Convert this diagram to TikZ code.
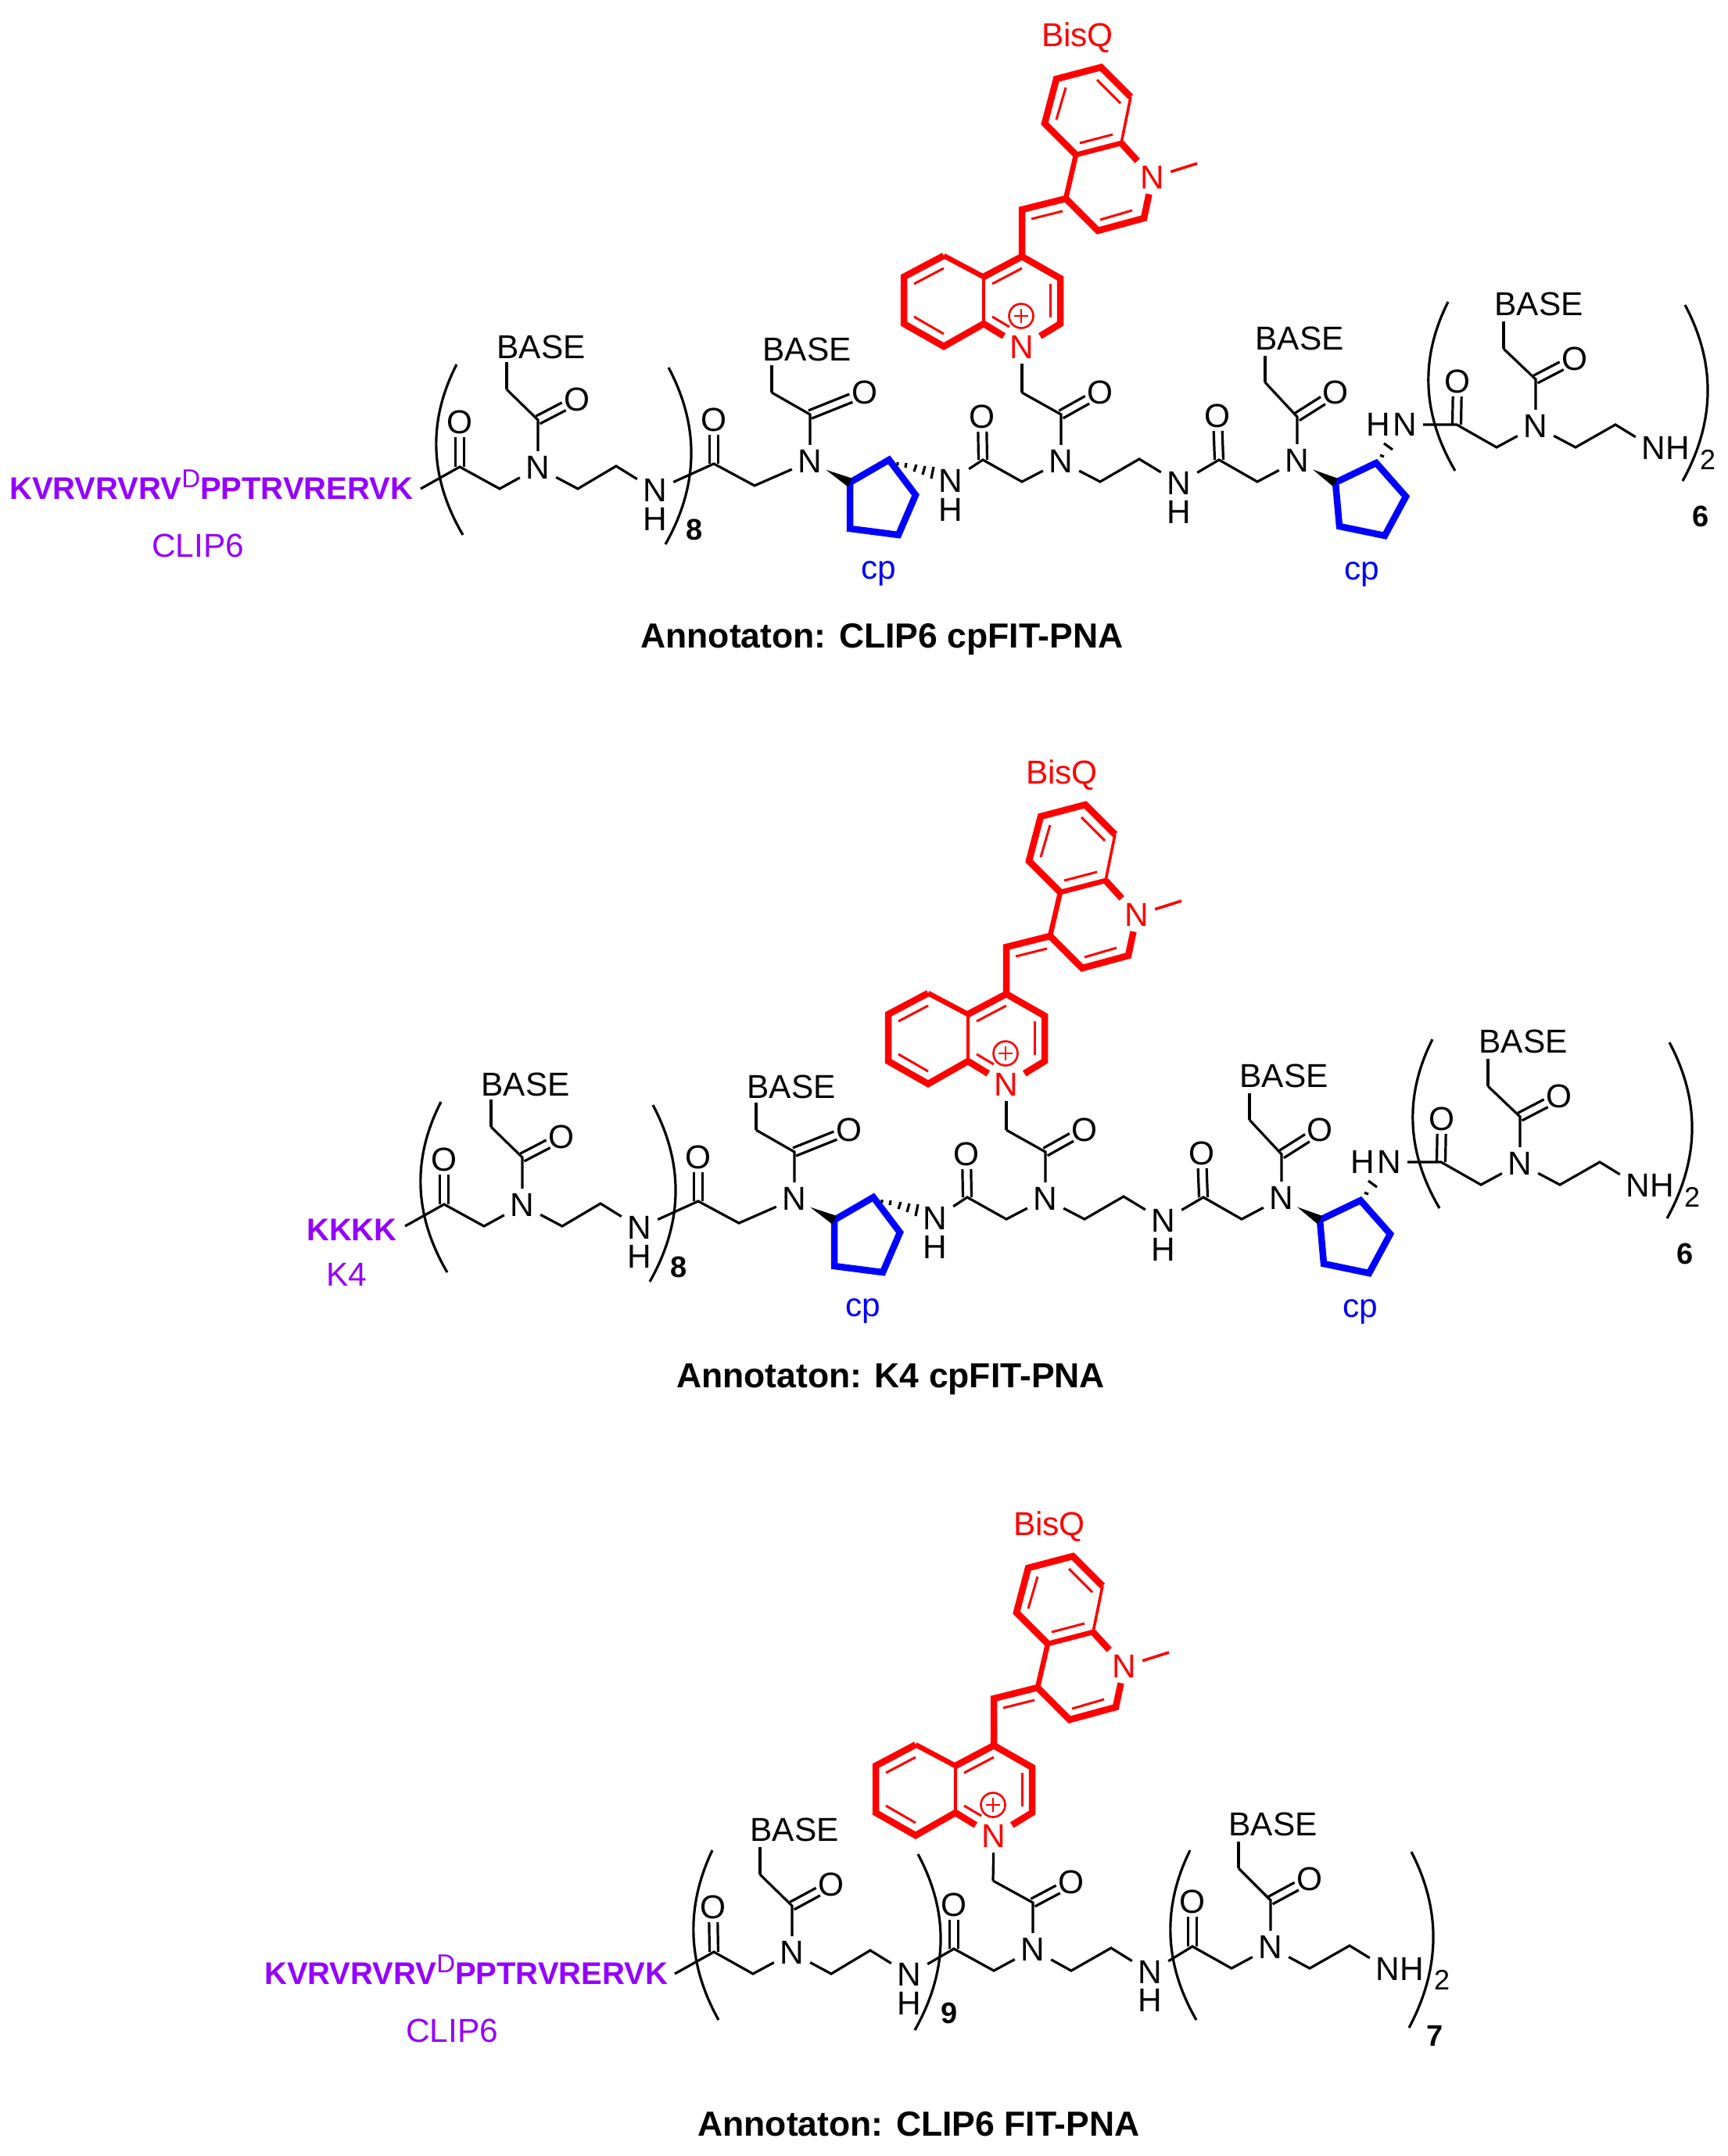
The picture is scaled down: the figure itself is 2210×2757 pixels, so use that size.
\documentclass[tikz,border=0pt]{standalone}
\usepackage{fontspec}
\setmainfont{Liberation Sans}
\usetikzlibrary{calc}
\definecolor{pep}{HTML}{9400FF}
\newcommand\fs[1]{\fontsize{#1}{#1}\selectfont}
\tikzset{
  bond/.style={line width=3.2pt,line join=miter,line cap=butt,black},
  parenl/.style={line width=3.2pt,black},
  atom/.style={rectangle,inner sep=0pt,minimum width=46pt,minimum height=42pt,font=\fs{42.4}},
  oxy/.style={inner sep=0pt,font=\fs{42.4}},
  lbl/.style={inner sep=0pt,font=\fs{42.4}},
  boldlbl/.style={inner sep=0pt,font=\fs{44.5}\bfseries},
  cnt/.style={inner sep=0pt,font=\fs{38}\bfseries},
  pepb/.style={inner sep=0pt,font=\fs{40}\bfseries,text=pep,anchor=base west},
  rb/.style={line width=8.5pt,line join=miter,line cap=butt,red},
  rm/.style={line width=6.5pt,line join=miter,line cap=butt,red},
  rt/.style={line width=3pt,line cap=butt,red},
  cpb/.style={line width=8.5pt,line join=miter,blue},
}
\newcommand\dbond[2]{%
  \draw[bond,shorten >=19pt] ($(#1)!5.5pt!90:(#2)$) -- ($(#2)!5.5pt!-90:(#1)$);
  \draw[bond,shorten >=19pt] ($(#1)!5.5pt!-90:(#2)$) -- ($(#2)!5.5pt!90:(#1)$);}
% N with its side-chain carbonyl: id, N, C, O, CH2
\newcommand\core[5]{%
  \node[atom] (#1-n) at (#2) {N};
  \coordinate (#1-c) at (#3);
  \node[oxy] (#1-o) at (#4) {O};
  \coordinate (#1-h) at (#5);
  \draw[bond] (#1-n) -- (#1-c) -- (#1-h);
  \dbond{#1-c}{#1-o}}
\newcommand\basegrp[3]{%
  \coordinate (#1-t) at (#2);
  \node[lbl] (#1-b) at (#3) {BASE};
  \draw[bond] (#1-h) -- (#1-t);}
% backbone carbonyl: id, previous node, C, O, CH2, next node
\newcommand\acyl[6]{%
  \coordinate (#1-ac) at (#3);
  \node[oxy] (#1-ao) at (#4) {O};
  \coordinate (#1-ah) at (#5);
  \draw[bond] (#2) -- (#1-ac) -- (#1-ah) -- (#6);
  \dbond{#1-ac}{#1-ao}}
% ethylene and NH: id, from, a, b, N pos, H pos
\newcommand\link[6]{%
  \coordinate (#1-a) at (#3);
  \coordinate (#1-e) at (#4);
  \node[atom] (#1-nh) at (#5) {N};
  \node[lbl] (#1-hh) at (#6) {H};
  \draw[bond] (#2) -- (#1-a) -- (#1-e) -- (#1-nh);}
\newcommand\parenth[3]{%
  \coordinate (pa) at (#1);
  \coordinate (pm) at (#2);
  \coordinate (pb) at (#3);
  \coordinate (pc) at ($2*(pm)-0.5*(pa)-0.5*(pb)$);
  \draw[parenl] (pa) .. controls ($(pa)!.667!(pc)$) and ($(pb)!.667!(pc)$) .. (pb);}
\newcommand\cpring[7]{%
  \coordinate (#1-1) at (#3);
  \coordinate (#1-2) at (#4);
  \coordinate (#1-3) at (#5);
  \coordinate (#1-4) at (#6);
  \coordinate (#1-5) at (#7);
  \draw[cpb] (#1-1) -- (#1-2) -- (#1-3) -- (#1-4) -- (#1-5) -- cycle;
  \coordinate (#1-tip) at ($(#2)!23pt!(#1-1)$);
  \fill[black] (#1-tip) -- ($(#1-1)!6pt!90:(#2)$) -- ($(#1-1)!6pt!-90:(#2)$) -- cycle;}
\newcommand\bisqgrp{%
  \node[lbl,anchor=base,text=red] (bq-label) at (1342,1963) {BisQ};
  \node[atom,text=red] (bq-n) at (1271,2348) {N};
  \node[atom,text=red] (bq-m) at (1438,2131) {N};
  \coordinate (L1) at (1171,2231); \coordinate (L2) at (1120,2258);
  \coordinate (L3) at (1120,2318); \coordinate (L4) at (1171,2347);
  \coordinate (L5) at (1222,2318); \coordinate (L6) at (1222,2258);
  \coordinate (R1) at (1271,2232); \coordinate (R2) at (1320,2260);
  \coordinate (R3) at (1320,2318); \coordinate (Ex) at (1271,2172);
  \coordinate (U1) at (1327,2158); \coordinate (U2) at (1340,2102);
  \coordinate (U3) at (1300,2062); \coordinate (U4) at (1315,2005);
  \coordinate (U5) at (1372,1990); \coordinate (U6) at (1410,2028);
  \coordinate (U7) at (1398,2087); \coordinate (U8) at (1427,2183);
  \coordinate (U9) at (1368,2199); \coordinate (Me) at (1495,2113);
  \draw[rb] (bq-n) -- (L5) -- (L4) -- (L3) -- (L2) -- (L1);
  \draw[rm] (L1) -- (L6);
  \draw[rb] (L6) -- (R1) -- (R2) -- (R3) -- (bq-n);
  \draw[rb] (R1) -- (Ex) -- (U1);
  \draw[rm] (U1) -- (U2) -- (U7);
  \draw[rb] (U2) -- (U3) -- (U4) -- (U5) -- (U6);
  \draw[rb] (U7) -- (bq-m);
  \draw[rb] (bq-m) -- (U8) -- (U9) -- (U1);
  \draw[rt,line width=3.6pt] (L5) -- (L6);
  \draw[rt,line width=3.6pt] (U6) -- (U7);
  \draw[rt,line width=3.6pt] (bq-m) -- (Me);
  \draw[rt] (1133,2267) -- (1171,2247);
  \draw[rt] (1133,2309) -- (1171,2331);
  \draw[rt] (1233,2267) -- (1271,2247);
  \draw[rt] (1307,2267) -- (1307,2310);
  \draw[rt] (1233,2309) -- (1255,2322);
  \draw[rt] (1283,2184) -- (1323,2174);
  \draw[rt] (1315,2057) -- (1327,2016);
  \draw[rt] (1367,2006) -- (1397,2036);
  \draw[rt] (1345,2087) -- (1387,2076);
  \draw[rt] (1371,2185) -- (1412,2173);
  \draw[rt,line width=2.6pt] (1270,2308) circle[radius=15.5];
  \draw[rt,line width=2.6pt] (1261,2308) -- (1279,2308) (1270,2299) -- (1270,2317);}
% the shared cpFIT-PNA body, drawn in the coordinates of the first structure
\newcommand\cpbody{%
  \coordinate (pstart) at (538,625);
  \core{m1}{688,598}{688,537}{738,511}{648,498}
  \basegrp{m1}{648,463}{692,444}
  \acyl{m1}{pstart}{588,597}{588,540}{639,625}{m1-n}
  \link{l1}{m1-n}{739,625}{788,596}{838,627}{838,664}
  \core{m2}{1036,590}{1036,530}{1106,502}{987,502}
  \basegrp{m2}{987,467}{1032,447}
  \acyl{m2}{l1-nh}{913,593}{913,537}{965,621}{m2-n}
  \cpring{c1}{m2-n}{1087,617}{1137,588}{1171,633}{1149,684}{1087,676}
  \node[atom] (n2) at (1216,615) {N};
  \node[lbl] (h2) at (1216,652) {H};
  \draw[bond] (1148,591) -- (1148,595) (1159,592) -- (1158,598) (1172,594) -- (1169,603) (1183,596) -- (1180,607) (1194,597) -- (1191,612);
  \node[lbl,anchor=base,text=blue] (cp1) at (1124,740) {cp};
  \begin{scope}[shift={(36,-1904)}]\bisqgrp\end{scope}
  \core{m3}{1357,590}{1357,530}{1407,502}{1307,502}
  \draw[bond] (m3-h) -- (bq-n);
  \acyl{m3}{n2}{1257,588}{1256,533}{1307,616}{m3-n}
  \link{l3}{m3-n}{1407,616}{1457,587}{1508,618}{1508,655}
  \core{m4}{1659,589}{1659,533}{1708,502}{1618,489}
  \basegrp{m4}{1618,455}{1662,433}
  \acyl{m4}{l3-nh}{1559,588}{1557,532}{1608,616}{m4-n}
  \cpring{c2}{m4-n}{1708,617}{1760,592}{1798,635}{1771,685}{1713,673}
  \draw[bond] (1765,582) -- (1770,584) (1770,567) -- (1781,575);
  \node[lbl] (h5) at (1763,543) {H};
  \node[atom] (n5) at (1797,543) {N};
  \core{m5}{1964,545}{1964,485}{2014,459}{1923,446}
  \basegrp{m5}{1923,411}{1968,389}
  \acyl{m5}{n5}{1863,543}{1864,488}{1914,572}{m5-n}
  \coordinate (e5a) at (2015,572);
  \coordinate (e5b) at (2066,543);
  \node[atom] (n6) at (2115,573) {N};
  \node[lbl] (h6) at (2146,573) {H};
  \node[lbl] (two) at (2184,588) {\fs{36}2};
  \draw[bond] (m5-n) -- (e5a) -- (e5b) -- (n6);
  \node[cnt] (cnt6) at (2175,660) {6};
  \node[cnt] (cnt8) at (888,677) {8};
  \parenth{584,466}{558,575}{592,684}
  \parenth{855,470}{884,583}{851,696}
  \parenth{1852,386}{1827,494}{1861,602}
  \parenth{2155,390}{2184,502}{2152,615}}
\begin{document}
\begin{tikzpicture}[x=1pt,y=-1pt]
\useasboundingbox (0,0) rectangle (2210,2757);
% structure 1
\begin{scope}[name prefix=a-]
  \cpbody
  \node[lbl,text=blue,anchor=base] (cp2) at (1742,741) {cp};
  \node[pepb,anchor=base west] (pep) at (12,638) {KVRVRVRV\raisebox{15pt}{\fs{33}\mdseries D}PPTRVRERVK};
  \node[lbl,text=pep] (pname) at (253,698) {CLIP6};
  \node[boldlbl,anchor=base] (title) at (1128,828) {Annotaton: CLIP6 cpFIT-PNA};
\end{scope}
% structure 2
\begin{scope}[shift={(-20,943)},name prefix=b-]
  \cpbody
  \node[lbl,text=blue,anchor=base] (cp2) at (1760,741) {cp};
  \node[pepb,anchor=base west] (pep) at (412,643) {KKKK};
  \node[lbl,text=pep] (pname) at (463,687) {K4};
\end{scope}
\node[boldlbl,anchor=base] (title2) at (1139,1774) {Annotaton: K4 cpFIT-PNA};
% structure 3
\begin{scope}[name prefix=c-]
  \bisqgrp
  \coordinate (pstart) at (863,2524);
  \core{m1}{1013,2497}{1013,2437}{1063,2410}{972,2397}
  \basegrp{m1}{972,2362}{1016,2340}
  \acyl{m1}{pstart}{913,2496}{912,2439}{963,2524}{m1-n}
  \link{l1}{m1-n}{1063,2524}{1113,2494}{1163,2525}{1163,2562}
  \core{m2}{1321,2493}{1321,2433}{1370,2407}{1270,2405}
  \draw[bond] (m2-h) -- (bq-n);
  \acyl{m2}{l1-nh}{1220,2492}{1220,2436}{1271,2520}{m2-n}
  \link{l2}{m2-n}{1370,2520}{1421,2491}{1471,2522}{1471,2558}
  \core{m3}{1625,2490}{1625,2430}{1675,2403}{1584,2389}
  \basegrp{m3}{1584,2355}{1628,2333}
  \acyl{m3}{l2-nh}{1525,2489}{1525,2432}{1575,2517}{m3-n}
  \coordinate (e3a) at (1675,2517);
  \coordinate (e3b) at (1726,2488);
  \node[atom] (n6) at (1775,2518) {N};
  \node[lbl] (h6) at (1806,2518) {H};
  \node[lbl] (two) at (1844,2532) {\fs{36}2};
  \draw[bond] (m3-n) -- (e3a) -- (e3b) -- (n6);
  \node[cnt] (cnt9) at (1214,2574) {9};
  \node[cnt] (cnt7) at (1835,2603) {7};
  \parenth{911,2366}{887,2475}{919,2583}
  \parenth{1174,2371}{1203,2483}{1170,2596}
  \parenth{1522,2366}{1497,2475}{1530,2583}
  \parenth{1805,2368}{1833,2480}{1802,2593}
  \node[pepb,anchor=base west] (pep) at (338,2537) {KVRVRVRV\raisebox{15pt}{\fs{33}\mdseries D}PPTRVRERVK};
  \node[lbl,text=pep] (pname) at (578,2597) {CLIP6};
  \node[boldlbl,anchor=base] (title) at (1175,2731) {Annotaton: CLIP6 FIT-PNA};
\end{scope}
\end{tikzpicture}
\end{document}
